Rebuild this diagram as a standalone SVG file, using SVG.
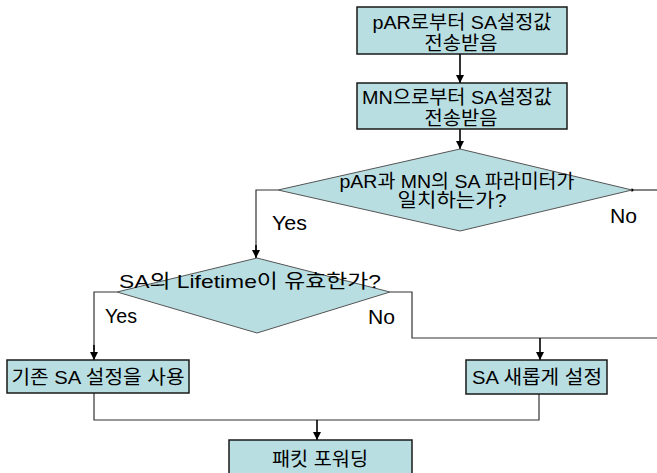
<svg xmlns="http://www.w3.org/2000/svg" width="657" height="473" viewBox="0 0 657 473">
<style>
.box{fill:#B9DEE2;stroke:#1a1a1a;stroke-width:1.5}
.dia{fill:#B9DEE2;stroke:#555;stroke-width:1}
.t{font-family:"Liberation Sans","Noto Sans CJK KR",sans-serif;font-size:19px;fill:#000;text-anchor:middle}
.lbl{font-family:"Liberation Sans","Noto Sans CJK KR",sans-serif;font-size:19.5px;fill:#000}
.ln{fill:none;stroke:#333;stroke-width:1.2}
.ar{fill:none;stroke:#000;stroke-width:1.6;marker-end:url(#ah)}
</style>
<defs>
<marker id="ah" viewBox="0 0 10 10" refX="10" refY="5" markerWidth="8" markerHeight="8" markerUnits="userSpaceOnUse" orient="auto">
<path d="M0,0 L10,5 L0,10 z" fill="#000"/>
</marker>
</defs>
<rect width="657" height="473" fill="#fff"/>
<g id="connectors">
<line class="ar" x1="460" y1="54" x2="460" y2="83"/>
<line class="ar" x1="460" y1="129" x2="460" y2="149"/>
<polyline class="ln" points="278,190 256,190 256,250"/>
<line class="ar" x1="256" y1="245" x2="256" y2="258"/>
<line class="ln" x1="632" y1="190" x2="657" y2="190"/>
<circle cx="632" cy="190" r="1.5" fill="#000"/>
<polyline class="ln" points="117,292 94,292 94,350"/>
<line class="ar" x1="94" y1="345" x2="94" y2="360"/>
<polyline class="ln" points="390,292 412,292 412,338 657,338"/>
<line class="ar" x1="540" y1="338" x2="540" y2="360"/>
<polyline class="ln" points="94,393 94,420 539,420 539,394"/>
<line class="ar" x1="317" y1="420" x2="317" y2="440"/>
</g>
<g id="n1">
<rect class="box" x="357" y="7" width="210" height="47"/>
<text class="t" x="462" y="29" textLength="179" lengthAdjust="spacingAndGlyphs">pAR로부터 SA설정값</text>
<text class="t" x="461" y="50" textLength="73" lengthAdjust="spacingAndGlyphs">전송받음</text>
</g>
<g id="n2">
<rect class="box" x="357" y="83" width="210" height="46"/>
<text class="t" x="457" y="104" textLength="190" lengthAdjust="spacingAndGlyphs">MN으로부터 SA설정값</text>
<text class="t" x="461" y="125" textLength="73" lengthAdjust="spacingAndGlyphs">전송받음</text>
</g>
<g id="d1">
<polygon class="dia" points="278,190 460,149 632,190 460,231"/>
<text class="t" x="457" y="188" textLength="235" lengthAdjust="spacingAndGlyphs">pAR과 MN의 SA 파라미터가</text>
<text class="t" x="452" y="207" textLength="109" lengthAdjust="spacingAndGlyphs">일치하는가?</text>
</g>
<g id="d2">
<polygon class="dia" points="117,292 257,258 390,292 257,333"/>
<text class="t" x="250" y="288" textLength="262" lengthAdjust="spacingAndGlyphs">SA의 Lifetime이 유효한가?</text>
</g>
<g id="labels">
<text class="lbl" x="272" y="230" textLength="35" lengthAdjust="spacingAndGlyphs">Yes</text>
<text class="lbl" x="610" y="223" textLength="27" lengthAdjust="spacingAndGlyphs">No</text>
<text class="lbl" x="105" y="323" textLength="32" lengthAdjust="spacingAndGlyphs">Yes</text>
<text class="lbl" x="368" y="324" textLength="27" lengthAdjust="spacingAndGlyphs">No</text>
</g>
<g id="n3">
<rect class="box" x="7" y="360" width="182" height="33"/>
<text class="t" x="98" y="384" textLength="173" lengthAdjust="spacingAndGlyphs">기존 SA 설정을 사용</text>
</g>
<g id="n4">
<rect class="box" x="466" y="360" width="141" height="34"/>
<text class="t" x="537" y="384" textLength="130" lengthAdjust="spacingAndGlyphs">SA 새롭게 설정</text>
</g>
<g id="n5">
<rect class="box" x="229" y="440" width="183" height="45"/>
<text class="t" x="320" y="466" textLength="96" lengthAdjust="spacingAndGlyphs">패킷 포워딩</text>
</g>
</svg>
